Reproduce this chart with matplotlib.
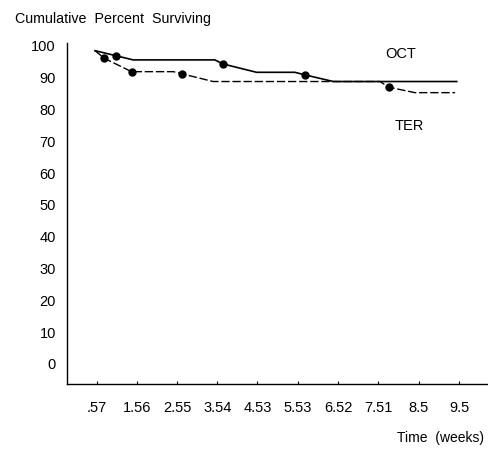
import matplotlib
matplotlib.use("Agg")
import matplotlib.pyplot as plt

plt.rcParams['font.family'] = ['Liberation Sans', 'DejaVu Sans']

# time axis ticks (weeks)
tick_vals = [0.57, 1.56, 2.55, 3.54, 4.53, 5.53, 6.52, 7.51, 8.5, 9.5]
tick_labels = ['.57', '1.56', '2.55', '3.54', '4.53', '5.53', '6.52', '7.51', '8.5', '9.5']
y_ticks = [0, 10, 20, 30, 40, 50, 60, 70, 80, 90, 100]

# OCT curve (solid)
oct_t = [0.53, 1.05, 1.47, 3.48, 3.69, 4.51, 5.45, 5.70, 6.40, 9.44]
oct_pct = [98.5, 96.9, 95.6, 95.6, 94.3, 91.7, 91.7, 90.9, 88.8, 88.8]
oct_mark_t = [1.05, 3.69, 5.70]
oct_mark_pct = [96.9, 94.3, 90.9]

# TER curve (dashed)
ter_t = [0.53, 0.76, 1.43, 2.46, 2.68, 3.44, 7.55, 7.77, 8.41, 9.40]
ter_pct = [98.5, 96.1, 91.9, 91.9, 91.2, 88.8, 88.8, 87.0, 85.3, 85.3]
ter_mark_t = [0.76, 1.43, 2.68, 7.77]
ter_mark_pct = [96.1, 91.9, 91.2, 87.0]

fig = plt.figure(figsize=(4.88, 4.54), dpi=100)
ax = fig.add_axes([0.1373, 0.1542, 0.8627, 0.751])

ax.plot(oct_t, oct_pct, color='black', lw=1.2)
ax.plot(ter_t, ter_pct, color='black', lw=1.0, dashes=(6, 2))
ax.plot(oct_mark_t, oct_mark_pct, 'o', color='black', ms=5)
ax.plot(ter_mark_t, ter_mark_pct, 'o', color='black', ms=5)

ax.text(7.68, 97.4, 'OCT', fontsize=10.5, ha='left', va='center')
ax.text(7.90, 74.8, 'TER', fontsize=10.5, ha='left', va='center')

ax.set_xlim(-0.16, 10.21)
ax.set_ylim(-6.3, 100.9)
ax.set_xticks(tick_vals)
ax.set_xticklabels(tick_labels)
ax.set_yticks(y_ticks)
ax.tick_params(axis='x', direction='in', length=2, pad=12, labelsize=10.5)
ax.tick_params(axis='y', length=0, pad=8, labelsize=10.5)

for s in ['top', 'right']:
    ax.spines[s].set_visible(False)
ax.spines['left'].set_linewidth(1.0)
ax.spines['bottom'].set_linewidth(1.0)

fig.text(15 / 488, 1 - 19 / 454, 'Cumulative  Percent  Surviving', fontsize=10.3, ha='left', va='center')
fig.text(484 / 488, 1 - 438 / 454, 'Time  (weeks)', fontsize=10, ha='right', va='center')

fig.savefig('out.png', dpi=100)
